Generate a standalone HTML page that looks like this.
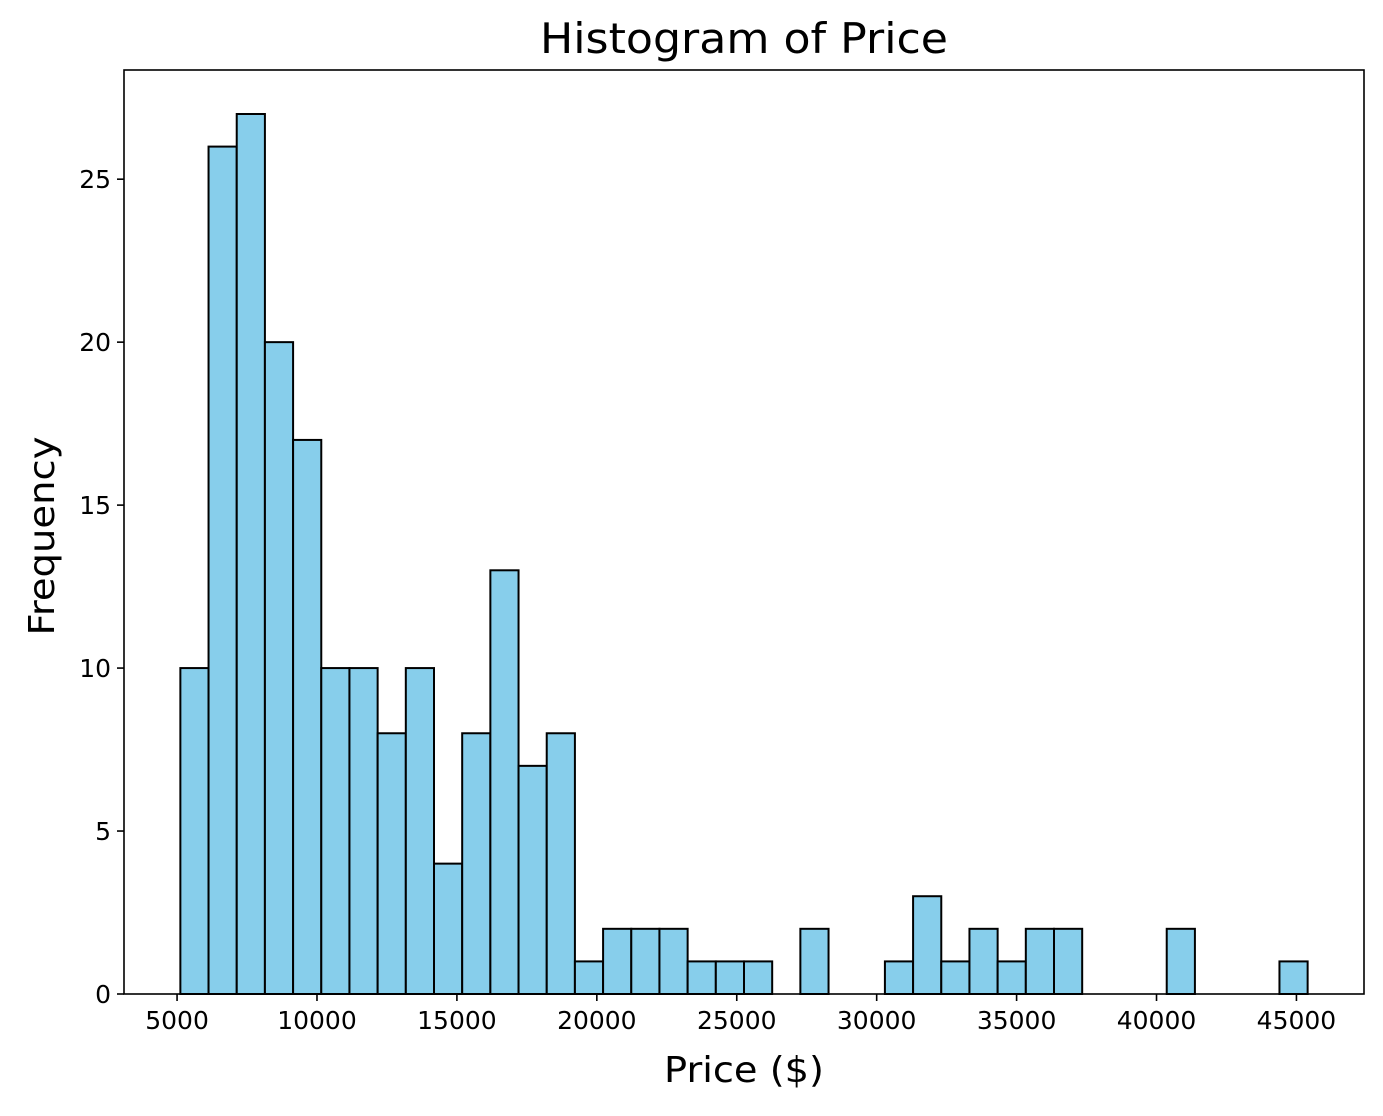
<!DOCTYPE html>
<html><head><meta charset="utf-8"><style>
body{margin:0;background:#fff}
text{font-family:"DejaVu Sans","Liberation Sans",sans-serif;fill:#000}
</style></head><body>
<svg id="chart" width="1383" height="1111" xmlns="http://www.w3.org/2000/svg">
<text x="744" y="53" font-size="42" text-anchor="middle" textLength="408" lengthAdjust="spacingAndGlyphs">Histogram of Price</text>
<g id="bars"></g>
<g id="axes"></g>
<rect x="124" y="70" width="1240" height="924" fill="none" stroke="#000" stroke-width="1.6"/>
<text x="744" y="1082" font-size="36" text-anchor="middle" textLength="160" lengthAdjust="spacingAndGlyphs">Price ($)</text>
<text transform="translate(54,536) rotate(-90)" font-size="36" text-anchor="middle" textLength="199" lengthAdjust="spacingAndGlyphs">Frequency</text>
</svg>
<script>
const binStart = 5118;
const binEnd = 45400;
const counts = [10,26,27,20,17,10,10,8,10,4,8,13,7,8,1,2,2,2,1,1,1,0,2,0,0,1,3,1,2,1,2,2,0,0,0,2,0,0,0,1];
const xTicks = [5000,10000,15000,20000,25000,30000,35000,40000,45000];
const yTicks = [0,5,10,15,20,25];
const ns="http://www.w3.org/2000/svg";
const L=124,R=1364,T=70,B=994;
const span=binEnd-binStart, xmin=binStart-span*0.05, xmax=binEnd+span*0.05;
const ymax=Math.max(...counts)*1.05;
const X=v=>L+(v-xmin)/(xmax-xmin)*(R-L);
const Y=v=>B-v/ymax*(B-T);
const bw=span/counts.length;
const bars=document.getElementById('bars'), axes=document.getElementById('axes');
counts.forEach((c,i)=>{
  if(c<=0) return;
  const r=document.createElementNS(ns,'rect');
  const x0=X(binStart+i*bw), x1=X(binStart+(i+1)*bw);
  r.setAttribute('x',x0);r.setAttribute('y',Y(c));
  r.setAttribute('width',x1-x0);r.setAttribute('height',Y(0)-Y(c));
  r.setAttribute('fill','#87ceeb');r.setAttribute('stroke','#000');r.setAttribute('stroke-width','2');
  
  
  bars.appendChild(r);
});
xTicks.forEach(t=>{
  const l=document.createElementNS(ns,'line');
  l.setAttribute('x1',X(t));l.setAttribute('x2',X(t));l.setAttribute('y1',B);l.setAttribute('y2',B+7);
  l.setAttribute('stroke','#000');l.setAttribute('stroke-width','1.6');
  
  
  axes.appendChild(l);
  const tx=document.createElementNS(ns,'text');
  tx.setAttribute('x',X(t));tx.setAttribute('y',B+35);tx.setAttribute('font-size','25');tx.setAttribute('text-anchor','middle');
  tx.textContent=t;
  
  
  axes.appendChild(tx);
});
yTicks.forEach(t=>{
  const l=document.createElementNS(ns,'line');
  l.setAttribute('x1',L-7);l.setAttribute('x2',L);l.setAttribute('y1',Y(t));l.setAttribute('y2',Y(t));
  l.setAttribute('stroke','#000');l.setAttribute('stroke-width','1.6');
  
  
  axes.appendChild(l);
  const tx=document.createElementNS(ns,'text');
  tx.setAttribute('x',L-13);tx.setAttribute('y',Y(t)+9);tx.setAttribute('font-size','25');tx.setAttribute('text-anchor','end');
  tx.textContent=t;
  
  
  axes.appendChild(tx);
});
</script>
</body></html>
